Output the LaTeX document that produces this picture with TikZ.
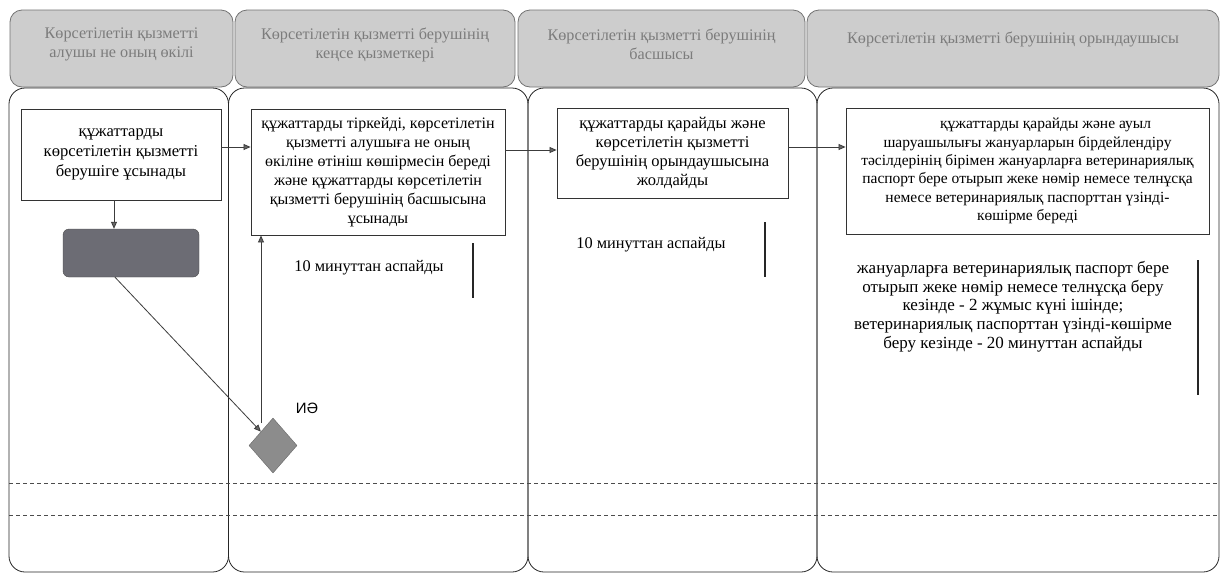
\documentclass[tikz,border=0pt]{standalone}
\usepackage{fontspec}
\setmainfont{Liberation Serif}
\newfontfamily\sansf{Liberation Sans}
\usetikzlibrary{arrows.meta,shapes.geometric}
\definecolor{hdrfill}{HTML}{CDCDCD}
\definecolor{hdrtext}{HTML}{7C7C7C}
\definecolor{darkbox}{HTML}{6C6C74}
\definecolor{dmfill}{HTML}{8C8C8C}
\definecolor{lnc}{HTML}{3C3C3C}
\begin{document}
\begin{tikzpicture}[x=1pt,y=-1pt,
  hdr/.style={draw=black!55, fill=hdrfill, rounded corners=12pt, line width=0.8pt, minimum height=77pt, inner sep=0pt},
  hdrtxt/.style={text=hdrtext, align=center, font=\fontsize{16.2}{19}\selectfont, inner sep=0pt},
  lane/.style={draw=black!85, rounded corners=16pt, line width=0.8pt},
  proc/.style={draw=black!80, fill=white, line width=0.9pt, align=center, inner sep=0pt},
  note/.style={align=center, inner sep=0pt},
  arr/.style={draw=lnc, line width=0.8pt, -{Triangle[length=7pt,width=6pt,fill=black!60]}},
  tline/.style={draw=black!85, line width=1.1pt},
  sep/.style={draw=black!70, line width=0.8pt, dash pattern=on 4pt off 3pt}
]
\useasboundingbox (0,0) rectangle (1221,574);
\fill[white] (0,0) rectangle (1221,574);

% headers
\node[hdr, minimum width=223pt] (h1) at (121.5,48.5) {};
\node[hdr, minimum width=280pt] (h2) at (375,48.5) {};
\node[hdr, minimum width=287pt] (h3) at (661.5,48.5) {};
\node[hdr, minimum width=412pt] (h4) at (1013,48.5) {};
\node[hdrtxt] (h1t) at (121.5,44.5) {Көрсетілетін қызметті\\алушы не оның өкілі};
\node[hdrtxt] (h2t) at (375,44.5) {Көрсетілетін қызметті берушінің\\кеңсе қызметкері};
\node[hdrtxt] (h3t) at (661.5,44.5) {Көрсетілетін қызметті берушінің\\басшысы};
\node[hdrtxt] (h4t) at (1013,39) {Көрсетілетін қызметті берушінің орындаушысы};

% lanes
\draw[lane] (9,88) rectangle (228.5,572);
\draw[lane] (228.5,88) rectangle (528,572);
\draw[lane] (528,88) rectangle (817,572);
\draw[lane] (817,88) rectangle (1219,572);

% dashed separators
\draw[sep] (9,483) -- (1219,483);
\draw[sep] (9,515) -- (1219,515);

% process boxes
\node[proc, minimum width=200pt, minimum height=91pt, font=\fontsize{16.6}{20}\selectfont] (b1) at (121,154.5)
  {құжаттарды\\көрсетілетін қызметті\\берушіге ұсынады};
\node[proc, minimum width=254pt, minimum height=126pt, font=\fontsize{16}{19}\selectfont] (b2) at (378,172)
  {құжаттарды тіркейді, көрсетілетін\\қызметті алушыға не оның\\өкіліне өтініш көшірмесін береді\\және құжаттарды көрсетілетін\\қызметті берушінің басшысына\\ұсынады};
\node[proc, minimum width=231pt, minimum height=90pt, font=\fontsize{16.5}{19}\selectfont] (b3) at (672.5,153)
  {құжаттарды қарайды және\\көрсетілетін қызметті\\берушінің орындаушысына\\жолдайды};
\node[proc, minimum width=363pt, minimum height=126pt, font=\fontsize{15.5}{18.4}\selectfont] (b4) at (1027.5,171)
  {\hspace*{36pt}құжаттарды қарайды және ауыл\\шаруашылығы жануарларын бірдейлендіру\\тәсілдерінің бірімен жануарларға ветеринариялық\\паспорт бере отырып жеке нөмір немесе телнұсқа\\немесе ветеринариялық паспорттан үзінді-\\көшірме береді};

% dark rounded box
\node[draw=black!70, fill=darkbox, rounded corners=6pt, minimum width=136pt, minimum height=48pt, inner sep=0pt] (dk) at (131,253) {};

% diamond
\node[diamond, draw=black!60, fill=dmfill, minimum width=48pt, minimum height=55pt, inner sep=0pt, aspect=0.87] (dm) at (273,445.5) {};
\node[font=\sansf\fontsize{15}{17}\selectfont, inner sep=0pt] (ia) at (307,408) {ИӘ};

% notes
\node[note, font=\fontsize{16.3}{18}\selectfont] (n2) at (369,268) {10 минуттан аспайды};
\node[note, font=\fontsize{16.3}{18}\selectfont] (n3) at (651,245) {10 минуттан аспайды};
\node[note, font=\fontsize{17}{18.75}\selectfont] (n4) at (1013,306.5)
  {жануарларға ветеринариялық паспорт бере\\отырып жеке нөмір немесе телнұсқа беру\\кезінде - 2 жұмыс күні ішінде;\\ветеринариялық паспорттан үзінді-көшірме\\беру кезінде - 20 минуттан аспайды};

% time lines
\draw[tline] (473,243) -- (473,298);
\draw[tline] (765,222) -- (765,277);
\draw[tline] (1198,260) -- (1198,395);

% connectors
\coordinate (x114) at (114,0);
\coordinate (y147) at (0,147);
\coordinate (y150) at (0,150);
\coordinate (x261) at (261,0);
\coordinate (x115) at (115,0);
\coordinate (up0) at (261,423);
\draw[arr] (b1.south -| x114) -- (dk.north -| x114);
\draw[arr] (b1.east |- y147) -- (b2.west |- y147);
\draw[arr] (b2.east |- y150) -- (b3.west |- y150);
\draw[arr] (b3.east |- y147) -- (b4.west |- y147);
\draw[arr] (dk.south -| x115) -- (dm.north west);
\draw[arr] (up0) -- (b2.south -| x261);
\end{tikzpicture}
\end{document}
